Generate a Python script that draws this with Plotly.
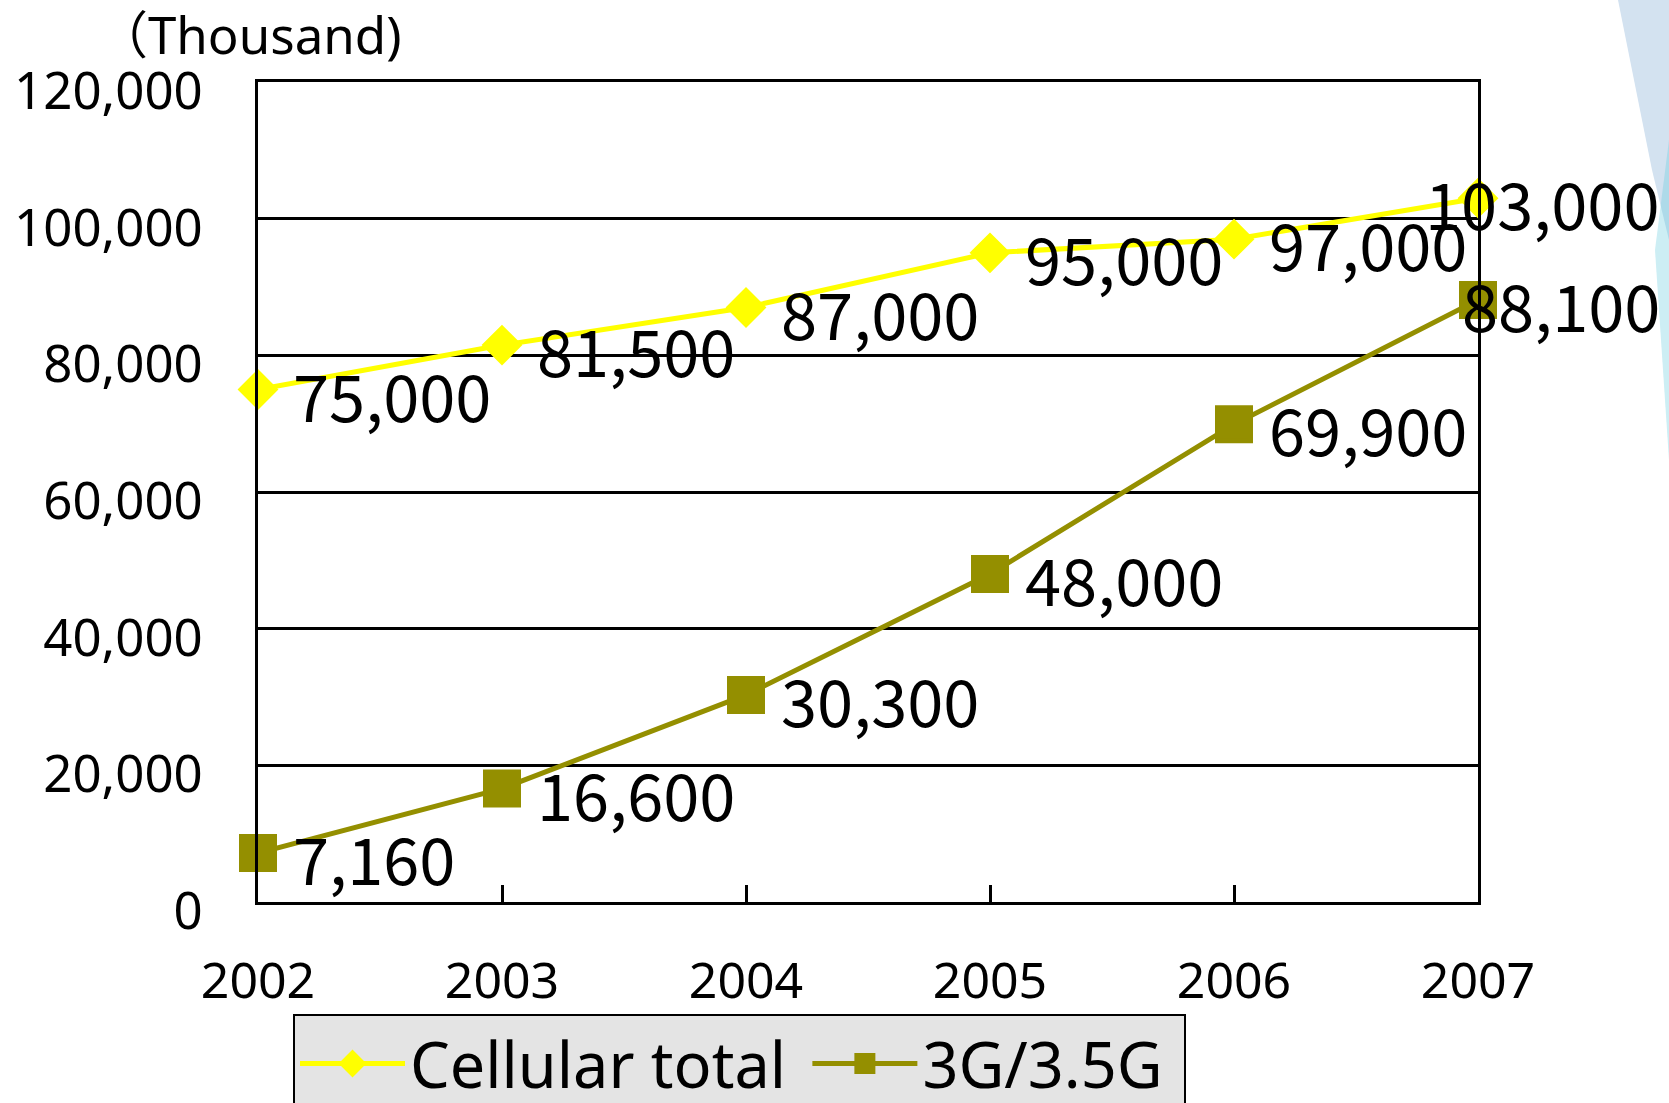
import plotly.graph_objects as go

# ---- data ----
years = [2002, 2003, 2004, 2005, 2006, 2007]
year_labels = ["2002", "2003", "2004", "2005", "2006", "2007"]
cellular_total = [75000, 81500, 87000, 95000, 97000, 103000]
g3_35 = [7160, 16600, 30300, 48000, 69900, 88100]
series_names = ["Cellular total", "3G/3.5G"]
y_ticks = [0, 20000, 40000, 60000, 80000, 100000, 120000]
y_tick_labels = ["0", "20,000", "40,000", "60,000", "80,000", "100,000", "120,000"]
unit_label = "（Thousand)"

# ---- geometry (pixels) ----
W, H = 1669, 1103
L, R, T, B = 258, 1478, 82, 902
PW, PH = R - L, B - T


def px_x(px):
    return (px - L) / PW


def px_y(py):
    return (B - py) / PH


FONT = "Noto Sans, Noto Sans CJK JP, sans-serif"
LABEL_FONT = "Noto Sans CJK JP, Noto Sans, sans-serif"
YELLOW = "#FFFF00"
OLIVE = "#948F00"
NBSP = "\u00a0"

fig = go.Figure()
fig.add_trace(go.Scatter(
    x=years, y=cellular_total, name=series_names[0] + NBSP, mode="lines+markers",
    line=dict(color=YELLOW, width=5),
    marker=dict(symbol="diamond", size=26, color=YELLOW, line=dict(color=YELLOW, width=5)),
    cliponaxis=False,
))
fig.add_trace(go.Scatter(
    x=years, y=g3_35, name=series_names[1] + NBSP, mode="lines+markers",
    line=dict(color=OLIVE, width=5),
    marker=dict(symbol="square", size=33, color=OLIVE, line=dict(color=OLIVE, width=5)),
    cliponaxis=False,
))

annotations = []
for series in (cellular_total, g3_35):
    n = len(series)
    for i, (yr, v) in enumerate(zip(years, series)):
        last = i == n - 1
        annotations.append(dict(
            x=yr, y=v, xref="x", yref="y", text=f"{v:,}", showarrow=False,
            xanchor="right" if last else "left", yanchor="middle",
            xshift=(1662 - R) if last else 33, yshift=-4,
            font=dict(family=LABEL_FONT, size=65, color="black"),
        ))

annotations.append(dict(
    x=px_x(403), y=px_y(34), xref="paper", yref="paper", text=unit_label,
    showarrow=False, xanchor="right", yanchor="middle",
    font=dict(family=FONT, size=51, color="black"),
))

shapes = [
    dict(type="path", xref="paper", yref="paper", layer="below",
         path=f"M {px_x(1618)},{px_y(0)} L {px_x(1669)},{px_y(0)} L {px_x(1669)},{px_y(240)} L {px_x(1652)},{px_y(170)} Z",
         fillcolor="rgba(110,160,205,0.3)", line=dict(width=0)),
    dict(type="path", xref="paper", yref="paper", layer="below",
         path=f"M {px_x(1669)},{px_y(140)} L {px_x(1669)},{px_y(460)} L {px_x(1655)},{px_y(250)} Z",
         fillcolor="rgba(90,200,220,0.3)", line=dict(width=0)),
]

fig.update_layout(
    width=W, height=H,
    margin=dict(l=L, r=W - R, t=T, b=H - B, pad=0, autoexpand=False),
    paper_bgcolor="white", plot_bgcolor="white",
    font=dict(family=FONT, color="black"),
    showlegend=True,
    legend=dict(
        orientation="h", x=px_x(293), y=px_y(1014), xanchor="left", yanchor="top",
        bgcolor="#e4e4e4", bordercolor="black", borderwidth=2,
        font=dict(family=FONT, size=63, color="black"),
        itemwidth=105,
    ),
    annotations=annotations,
    shapes=shapes,
)

fig.update_xaxes(
    range=[years[0], years[-1]], tickmode="array", tickvals=years, ticktext=year_labels,
    showline=True, linecolor="black", linewidth=3, mirror=True,
    showgrid=False, zeroline=False,
    ticks="inside", ticklen=17, tickwidth=2.5, tickcolor="black",
    ticklabelstandoff=33,
    tickfont=dict(family=FONT, size=50, color="black"),
)
fig.update_yaxes(
    range=[0, 120000], tickvals=y_ticks, ticktext=y_tick_labels,
    showline=True, linecolor="black", linewidth=3, mirror=True,
    showgrid=True, gridcolor="black", gridwidth=2.5, zeroline=False,
    ticks="", ticklabelstandoff=42, ticklabelshift=9,
    tickfont=dict(family=FONT, size=51, color="black"),
)

fig.write_html(
    "out.html",
    config={"displayModeBar": False},
    post_script="document.body.style.margin='0px';document.body.style.overflow='hidden';",
)
